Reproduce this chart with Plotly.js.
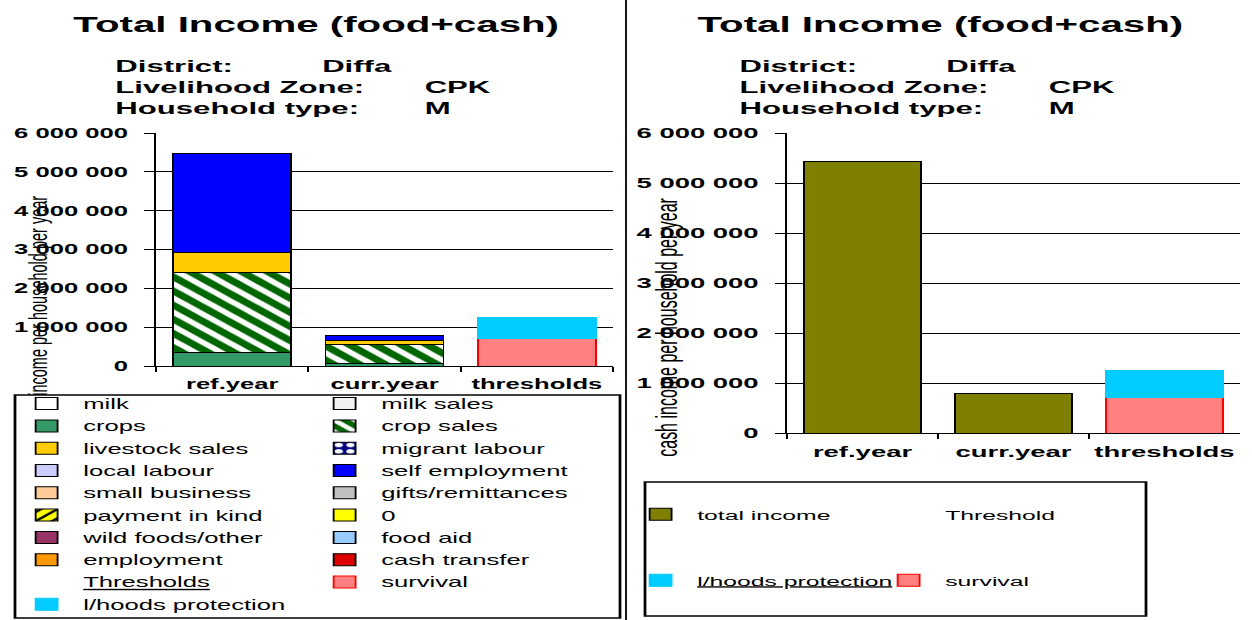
<!DOCTYPE html>
<html>
<head>
<meta charset="utf-8">
<script src="https://cdn.plot.ly/plotly-3.0.1.min.js"></script>
<style>
  body { margin: 0; overflow: hidden; background: #fff; }
  /* the source picture is a narrow excel chart stretched sideways, so draw narrow and stretch */
  #chart { width: 684px; height: 620px; transform: scaleX(1.83041); transform-origin: 0 0; }
</style>
</head>
<body>
<div id="chart"></div>
<script>
var categories = ["ref.year", "curr.year", "thresholds"];
var years = ["ref.year", "curr.year"];

// income sources, in legend order (read across: left column, right column)
var sourceNames = ["milk", "milk sales", "crops", "crop sales", "livestock sales", "migrant labour",
  "local labour", "self employment", "small business", "gifts/remittances", "payment in kind", "0",
  "wild foods/other", "food aid", "employment", "cash transfer"];

var milk = [0, 0];
var milkSales = [0, 0];
var crops = [340000, 60000];
var cropSales = [2060000, 500000];
var livestockSales = [520000, 100000];
var migrantLabour = [0, 0];
var localLabour = [0, 0];
var selfEmployment = [2550000, 120000];
var smallBusiness = [0, 0];
var gifts = [0, 0];
var paymentInKind = [0, 0];
var zeroSeries = [0, 0];
var wildFoods = [0, 0];
var foodAid = [0, 0];
var employment = [0, 0];
var cashTransfer = [0, 0];

var sourceValues = [milk, milkSales, crops, cropSales, livestockSales, migrantLabour, localLabour,
  selfEmployment, smallBusiness, gifts, paymentInKind, zeroSeries, wildFoods, foodAid, employment, cashTransfer];

var survival = [720000];
var livelihoodsProtection = [530000];
var totalIncome = [5440000, 790000];

var infoLabels = ["District:", "Livelihood Zone:", "Household type:"];
var infoValues = ["Diffa", "CPK", "M"];

var sourceColors = ["#FFFFFF", "#F2F2F2", "#339966", "#006600", "#FFCC00", "#000080",
  "#CCCCFF", "#0000FF", "#FFCC99", "#C0C0C0", "#FFFF00", "#FFFF00",
  "#993366", "#99CCFF", "#FF9900", "#DD0000"];
var sourcePatterns = {
  "crop sales": {shape: "\\", bgcolor: "#006600", fgcolor: "#FFFFFF", size: 10, solidity: 0.45},
  "migrant labour": {shape: ".", bgcolor: "#000080", fgcolor: "#FFFFFF", size: 8, solidity: 0.4},
  "payment in kind": {shape: "/", bgcolor: "#FFFF00", fgcolor: "#000000", size: 8, solidity: 0.3}
};

var FONT = "Liberation Sans, Arial, sans-serif";
var H = 620;
// positions below are read in picture pixels (1252 wide), paper x is simply x / 1252
function px(x) { return x / 1252; }
function py(y) { return 1 - y / H; }

var data = [];
sourceNames.forEach(function (name, i) {
  data.push({
    type: "bar", name: name, x: years, y: sourceValues[i], xaxis: "x", yaxis: "y",
    legend: i % 2 === 0 ? "legend" : "legend2", legendgroup: "src" + i,
    marker: {color: sourceColors[i], line: {color: "#000", width: 1},
      pattern: sourcePatterns[name] || {shape: ""}},
    hoverinfo: "skip"
  });
});

function header(name, xa, ya, legend) {
  return {type: "bar", name: name, x: ["thresholds"], y: [0], xaxis: xa, yaxis: ya,
    legend: legend, legendgroup: "head" + xa,
    marker: {color: "rgba(0,0,0,0)", line: {width: 0}}, hoverinfo: "skip"};
}
function survivalBar(xa, ya, legend) {
  return {type: "bar", name: "survival", x: ["thresholds"], y: survival, xaxis: xa, yaxis: ya,
    legend: legend, legendgroup: "surv" + xa,
    marker: {color: "#FF8080", line: {color: "#FF0000", width: 1}}, hoverinfo: "skip"};
}
function protectionBar(name, xa, ya, legend) {
  return {type: "bar", name: name, x: ["thresholds"], y: livelihoodsProtection, xaxis: xa, yaxis: ya,
    legend: legend, legendgroup: "prot" + xa,
    marker: {color: "#00CCFF", line: {color: "#00CCFF", width: 1}}, hoverinfo: "skip"};
}

// left chart thresholds
data.push(header("<u>Thresholds</u>", "x", "y", "legend"));
data.push(survivalBar("x", "y", "legend2"));
data.push(protectionBar("l/hoods protection", "x", "y", "legend"));

// right chart
data.push({type: "bar", name: "total income", x: years, y: totalIncome, xaxis: "x2", yaxis: "y2",
  legend: "legend3", legendgroup: "total",
  marker: {color: "#808000", line: {color: "#000", width: 1}}, hoverinfo: "skip"});
data.push(header("Threshold", "x2", "y2", "legend4"));
data.push(survivalBar("x2", "y2", "legend4"));
data.push(protectionBar("<u>l/hoods protection</u>", "x2", "y2", "legend3"));

function valueAxis(top, bottom, size, anchor) {
  return {domain: [py(bottom), py(top)], anchor: anchor, range: [0, 6000000], dtick: 1000000,
    tickformat: ",", showline: true, linecolor: "#000", linewidth: 1,
    ticks: "outside", ticklen: 5.5, tickcolor: "#000", ticklabelstandoff: 6,
    showgrid: true, gridcolor: "#000", gridwidth: 1, zeroline: false, fixedrange: true,
    tickfont: {family: FONT, size: size, weight: "bold", color: "#000"}};
}
function categoryAxis(left, right, size, anchor) {
  return {domain: [px(left), px(right)], anchor: anchor, type: "category",
    categoryorder: "array", categoryarray: categories, range: [-0.5, 2.5],
    showline: true, linecolor: "#000", linewidth: 1, ticks: "outside", tickson: "boundaries",
    ticklen: 5, tickcolor: "#000", ticklabelstandoff: 5, showgrid: false, fixedrange: true,
    tickfont: {family: FONT, size: size, weight: "bold", color: "#000"}};
}
function legendAt(left, top, gap, size) {
  return {x: px(left), y: py(top), xanchor: "left", yanchor: "top", orientation: "v",
    traceorder: "grouped", tracegroupgap: gap, bgcolor: "rgba(0,0,0,0)", borderwidth: 0,
    font: {family: FONT, size: size, color: "#000"}};
}

var annotations = [];
[0, 624].forEach(function (dx) {
  annotations.push({text: "Total Income (food+cash)", x: px(315 + dx), y: py(25),
    xref: "paper", yref: "paper", xanchor: "center", yanchor: "middle", showarrow: false,
    font: {family: FONT, size: 22, weight: "bold", color: "#000"}});
  infoLabels.forEach(function (lab, i) {
    var y = py(66 + i * 21.3);
    annotations.push({text: lab, x: px(111 + dx), y: y, xref: "paper", yref: "paper",
      xanchor: "left", yanchor: "middle", showarrow: false,
      font: {family: FONT, size: 17, weight: "bold", color: "#000"}});
    annotations.push({text: infoValues[i], x: px((i === 0 ? 318 : 421) + dx), y: y,
      xref: "paper", yref: "paper", xanchor: "left", yanchor: "middle", showarrow: false,
      font: {family: FONT, size: 17, weight: "bold", color: "#000"}});
  });
});
annotations.push({text: "income per household per year", x: px(38), y: py(296), textangle: -90,
  xref: "paper", yref: "paper", xanchor: "center", yanchor: "middle", showarrow: false,
  font: {family: FONT, size: 14.5, color: "#000"}});
annotations.push({text: "cash income per household per year", x: px(666), y: py(327), textangle: -90,
  xref: "paper", yref: "paper", xanchor: "center", yanchor: "middle", showarrow: false,
  font: {family: FONT, size: 16, color: "#000"}});

var shapes = [
  {type: "line", xref: "paper", yref: "paper", x0: px(626), x1: px(626), y0: 0, y1: 1,
    line: {color: "#000", width: 1}},
  {type: "rect", xref: "paper", yref: "paper", x0: px(15), x1: px(620), y0: py(618), y1: py(395),
    line: {color: "#000", width: 1.5}},
  {type: "rect", xref: "paper", yref: "paper", x0: px(645), x1: px(1146), y0: py(616), y1: py(482),
    line: {color: "#000", width: 1.5}}
];

var layout = {
  width: 684, height: H,
  margin: {l: 0, r: 0, t: 0, b: 0, autoexpand: false},
  paper_bgcolor: "#fff", plot_bgcolor: "#fff",
  barmode: "stack", bargap: 0.225, separators: ". ",
  hovermode: false, showlegend: true,
  font: {family: FONT, color: "#000"},
  xaxis: categoryAxis(156, 613, 14, "y"),
  yaxis: valueAxis(133, 366, 14, "x"),
  xaxis2: categoryAxis(787, 1240, 15, "y2"),
  yaxis2: valueAxis(133, 433, 15, "x2"),
  legend: legendAt(10, 388, 1.1, 14),
  legend2: legendAt(308, 388, 1.1, 14),
  legend3: legendAt(624, 499, 45.5, 13.5),
  legend4: legendAt(872, 499, 45.5, 13.5),
  annotations: annotations,
  shapes: shapes
};

Plotly.newPlot("chart", data, layout, {displayModeBar: false, staticPlot: true});
</script>
</body>
</html>
